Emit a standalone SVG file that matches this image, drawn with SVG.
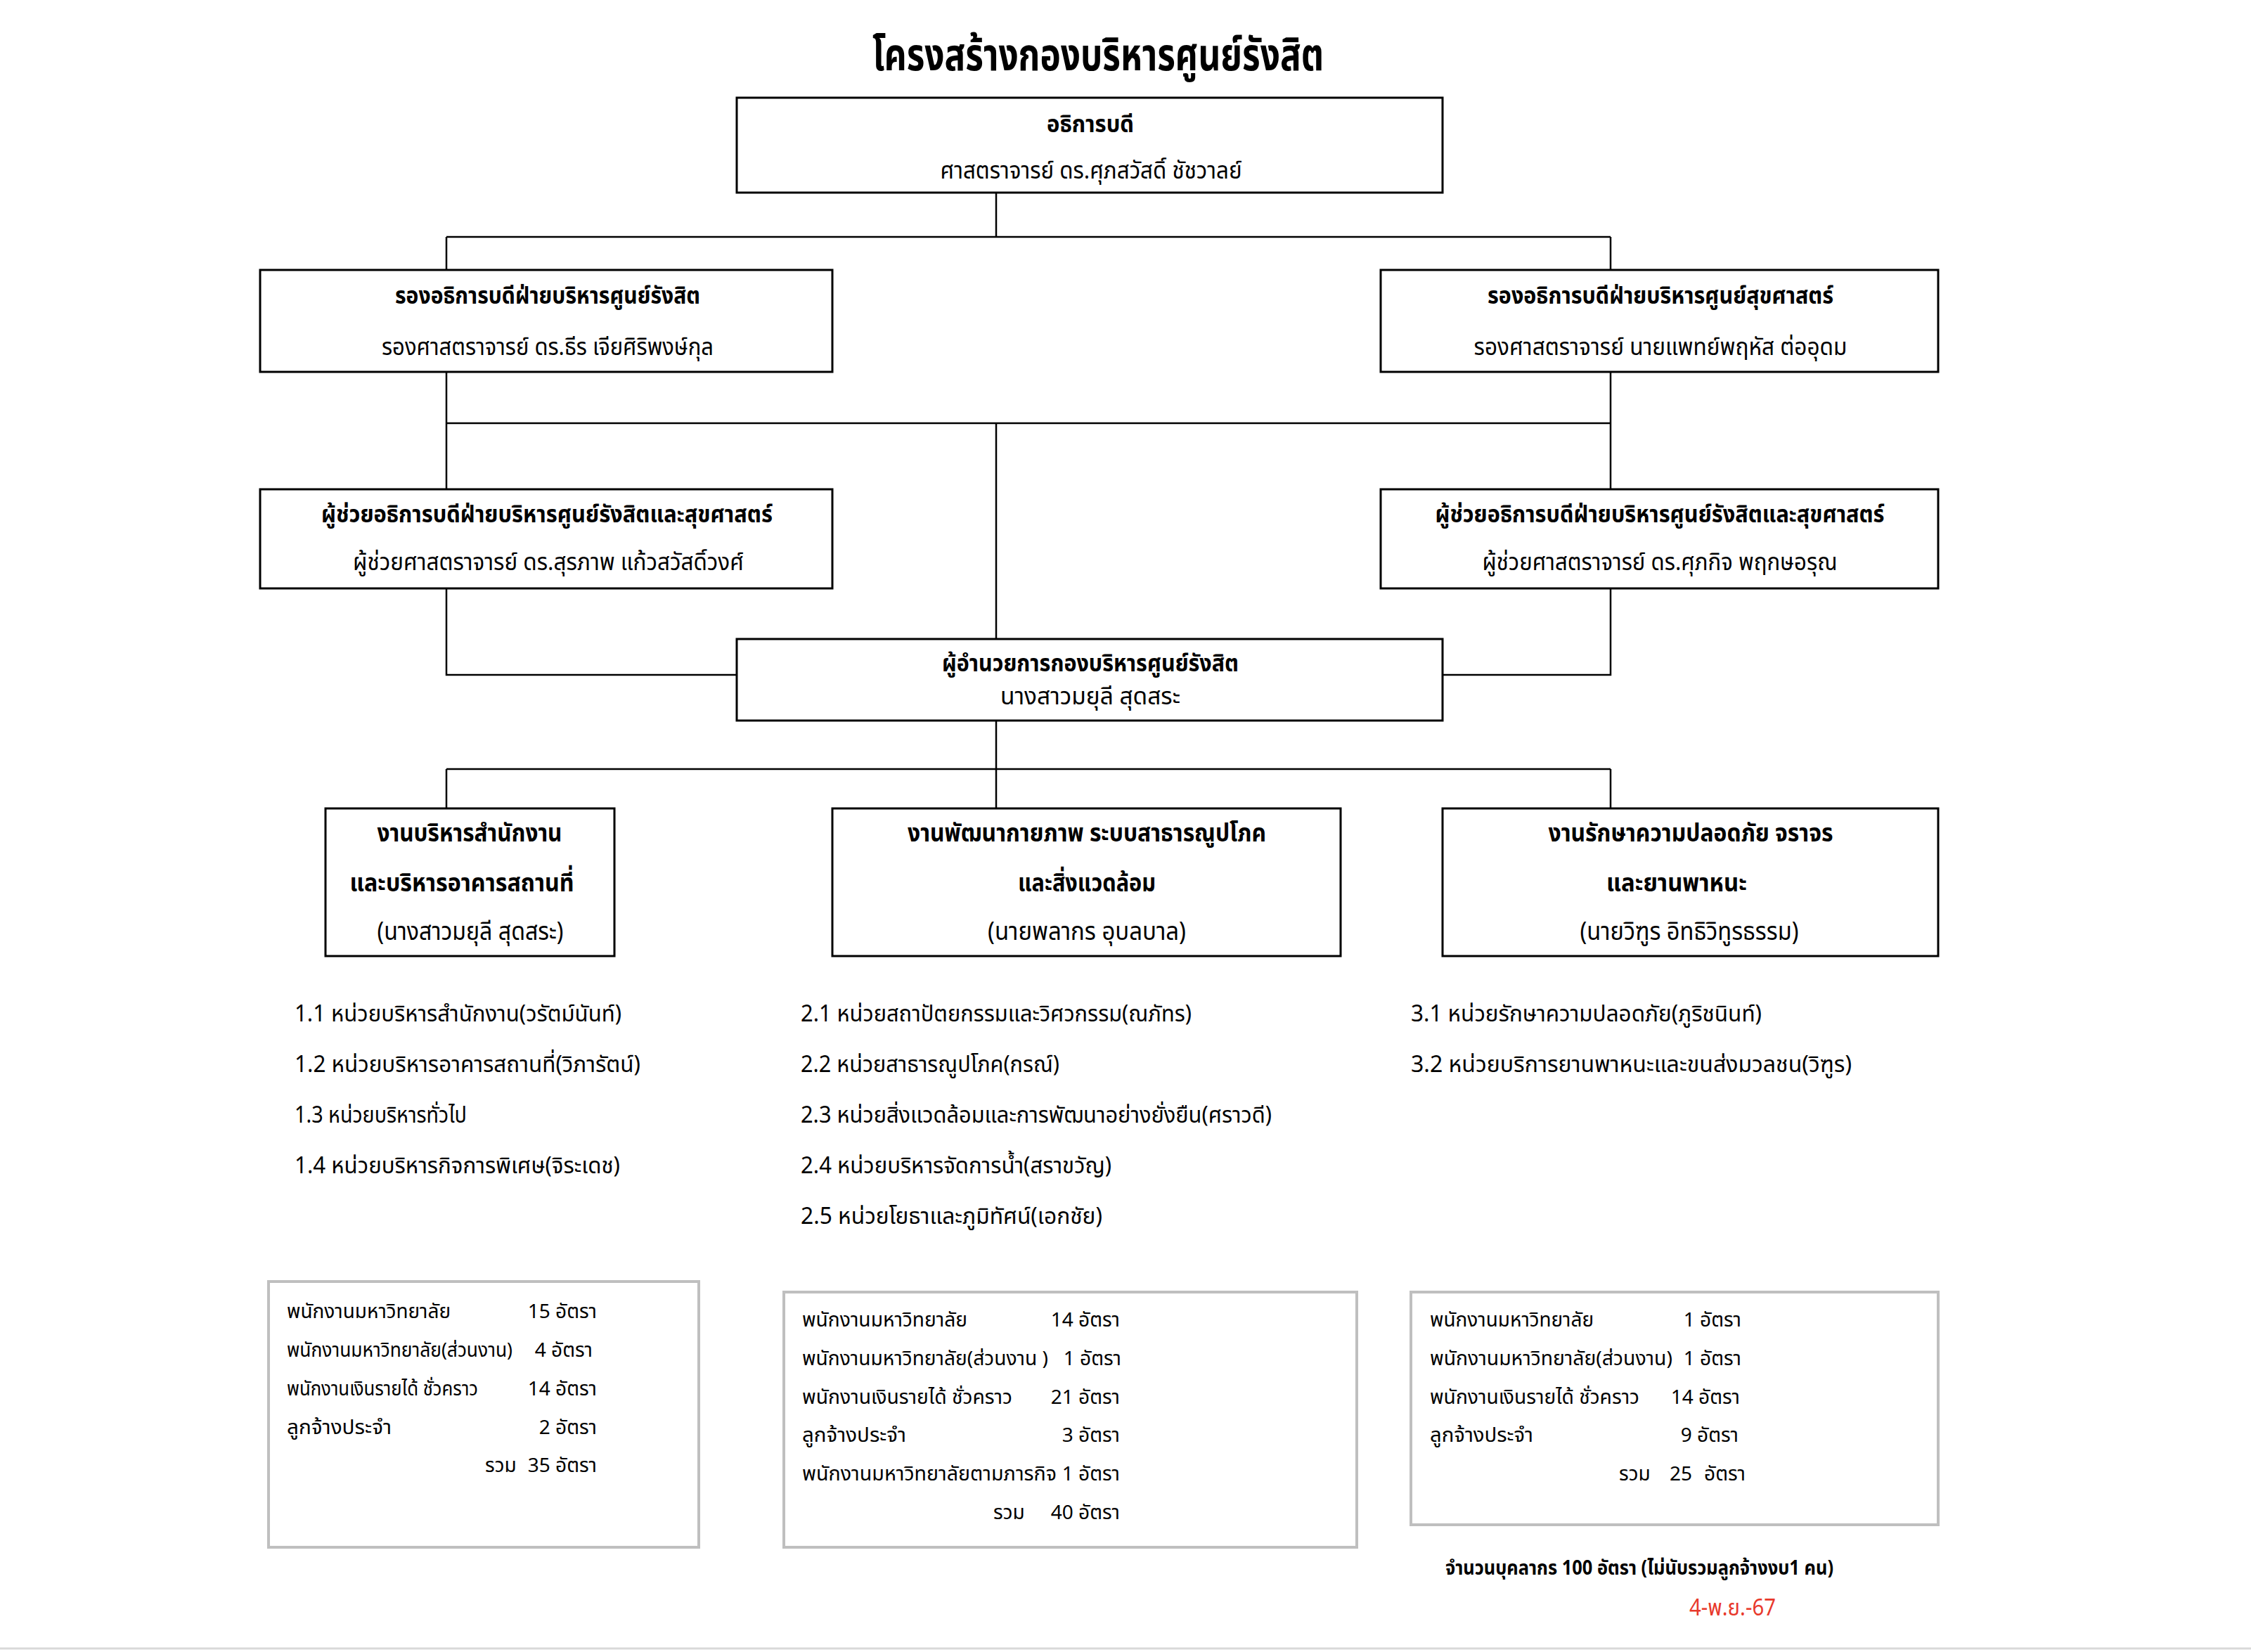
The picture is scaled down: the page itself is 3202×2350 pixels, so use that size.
<svg xmlns="http://www.w3.org/2000/svg" width="3202" height="2350" viewBox="0 0 3202 2350">
<style>
text { font-family: "Noto Sans Thai", "Noto Sans", "Liberation Sans", sans-serif; fill: #000; }
.b { font-weight: bold; }
.c { text-anchor: middle; }
.e { text-anchor: end; }
.box { fill: #fff; stroke: #000; stroke-width: 3; }
.gbox { fill: #fff; stroke: #bfbfbf; stroke-width: 4; }
.conn { stroke: #000; stroke-width: 2.5; fill: none; }
.f36 { font-size: 33px; }
.f38 { font-size: 36px; }
.f32 { font-size: 32px; }
.f28 { font-size: 28px; }
</style>
<rect width="3202" height="2350" fill="#fff"/>
<text class="b c" x="1562" y="100" font-size="64" textLength="642" lengthAdjust="spacingAndGlyphs">โครงสร้างกองบริหารศูนย์รังสิต</text>

<g id="connectors">
<path class="conn" d="M1417 274 V337 M635 337 H2291 M635 337 V384 M2291 337 V384"/>
<path class="conn" d="M635 529 V696 M2291 529 V696 M635 602 H2291 M1417 602 V909"/>
<path class="conn" d="M635 837 V960 H1048 M2291 837 V960 H2052"/>
<path class="conn" d="M1417 1025 V1094 M635 1094 H2291 M635 1094 V1150 M1417 1094 V1150 M2291 1094 V1150"/>
</g>

<g id="president">
<rect class="box" x="1048" y="139" width="1004" height="135"/>
<text class="b c f36" x="1551" y="188" textLength="124" lengthAdjust="spacingAndGlyphs">อธิการบดี</text>
<text class="c f36" x="1552" y="254" textLength="429" lengthAdjust="spacingAndGlyphs">ศาสตราจารย์ ดร.ศุภสวัสดิ์ ชัชวาลย์</text>
</g>

<g id="vp-rangsit">
<rect class="box" x="370" y="384" width="814" height="145"/>
<text class="b c f36" x="779" y="432" textLength="434" lengthAdjust="spacingAndGlyphs">รองอธิการบดีฝ่ายบริหารศูนย์รังสิต</text>
<text class="c f36" x="779" y="505" textLength="472" lengthAdjust="spacingAndGlyphs">รองศาสตราจารย์ ดร.ธีร  เจียศิริพงษ์กุล</text>
</g>

<g id="vp-health">
<rect class="box" x="1964" y="384" width="793" height="145"/>
<text class="b c f36" x="2362" y="432" textLength="492" lengthAdjust="spacingAndGlyphs">รองอธิการบดีฝ่ายบริหารศูนย์สุขศาสตร์</text>
<text class="c f36" x="2362" y="505" textLength="531" lengthAdjust="spacingAndGlyphs">รองศาสตราจารย์ นายแพทย์พฤหัส  ต่ออุดม</text>
</g>

<g id="asst-left">
<rect class="box" x="370" y="696" width="814" height="141"/>
<text class="b c f36" x="778" y="743" textLength="642" lengthAdjust="spacingAndGlyphs">ผู้ช่วยอธิการบดีฝ่ายบริหารศูนย์รังสิตและสุขศาสตร์</text>
<text class="c f36" x="780" y="811" textLength="556" lengthAdjust="spacingAndGlyphs">ผู้ช่วยศาสตราจารย์ ดร.สุรภาพ  แก้วสวัสดิ์วงศ์</text>
</g>

<g id="asst-right">
<rect class="box" x="1964" y="696" width="793" height="141"/>
<text class="b c f36" x="2361" y="743" textLength="639" lengthAdjust="spacingAndGlyphs">ผู้ช่วยอธิการบดีฝ่ายบริหารศูนย์รังสิตและสุขศาสตร์</text>
<text class="c f36" x="2361" y="811" textLength="505" lengthAdjust="spacingAndGlyphs">ผู้ช่วยศาสตราจารย์ ดร.ศุภกิจ  พฤกษอรุณ</text>
</g>

<g id="director">
<rect class="box" x="1048" y="909" width="1004" height="116"/>
<text class="b c f36" x="1551" y="955" textLength="422" lengthAdjust="spacingAndGlyphs">ผู้อำนวยการกองบริหารศูนย์รังสิต</text>
<text class="c f36" x="1551" y="1002" textLength="256" lengthAdjust="spacingAndGlyphs">นางสาวมยุลี  สุดสระ</text>
</g>

<g id="unit-office">
<rect class="box" x="463" y="1150" width="411" height="210"/>
<text class="b c f38" x="668" y="1197" textLength="263" lengthAdjust="spacingAndGlyphs">งานบริหารสำนักงาน</text>
<text class="b c f38" x="657" y="1268" textLength="319" lengthAdjust="spacingAndGlyphs">และบริหารอาคารสถานที่</text>
<text class="c f38" x="669" y="1337" textLength="265" lengthAdjust="spacingAndGlyphs">(นางสาวมยุลี สุดสระ)</text>
</g>

<g id="unit-physical">
<rect class="box" x="1184" y="1150" width="723" height="210"/>
<text class="b c f38" x="1546" y="1197" textLength="510" lengthAdjust="spacingAndGlyphs">งานพัฒนากายภาพ ระบบสาธารณูปโภค</text>
<text class="b c f38" x="1546" y="1268" textLength="196" lengthAdjust="spacingAndGlyphs">และสิ่งแวดล้อม</text>
<text class="c f38" x="1546" y="1337" textLength="282" lengthAdjust="spacingAndGlyphs">(นายพลากร  อุบลบาล)</text>
</g>

<g id="unit-security">
<rect class="box" x="2052" y="1150" width="705" height="210"/>
<text class="b c f38" x="2405" y="1197" textLength="405" lengthAdjust="spacingAndGlyphs">งานรักษาความปลอดภัย จราจร</text>
<text class="b c f38" x="2385" y="1268" textLength="200" lengthAdjust="spacingAndGlyphs">และยานพาหนะ</text>
<text class="c f38" x="2403" y="1337" textLength="311" lengthAdjust="spacingAndGlyphs">(นายวิฑูร  อิทธิวิทูรธรรม)</text>
</g>

<g id="list-office">
<text class="f32" x="419" y="1453" textLength="465" lengthAdjust="spacingAndGlyphs">1.1 หน่วยบริหารสำนักงาน(วรัตม์นันท์)</text>
<text class="f32" x="419" y="1525" textLength="492" lengthAdjust="spacingAndGlyphs">1.2 หน่วยบริหารอาคารสถานที่(วิภารัตน์)</text>
<text class="f32" x="419" y="1597" textLength="245" lengthAdjust="spacingAndGlyphs">1.3 หน่วยบริหารทั่วไป</text>
<text class="f32" x="419" y="1669" textLength="463" lengthAdjust="spacingAndGlyphs">1.4 หน่วยบริหารกิจการพิเศษ(จิระเดช)</text>
</g>

<g id="list-physical">
<text class="f32" x="1139" y="1453" textLength="556" lengthAdjust="spacingAndGlyphs">2.1 หน่วยสถาปัตยกรรมและวิศวกรรม(ณภัทร)</text>
<text class="f32" x="1139" y="1525" textLength="368" lengthAdjust="spacingAndGlyphs">2.2 หน่วยสาธารณูปโภค(กรณ์)</text>
<text class="f32" x="1139" y="1597" textLength="670" lengthAdjust="spacingAndGlyphs">2.3 หน่วยสิ่งแวดล้อมและการพัฒนาอย่างยั่งยืน(ศราวดี)</text>
<text class="f32" x="1139" y="1669" textLength="442" lengthAdjust="spacingAndGlyphs">2.4 หน่วยบริหารจัดการน้ำ(สราขวัญ)</text>
<text class="f32" x="1139" y="1741" textLength="429" lengthAdjust="spacingAndGlyphs">2.5 หน่วยโยธาและภูมิทัศน์(เอกชัย)</text>
</g>

<g id="list-security">
<text class="f32" x="2007" y="1453" textLength="499" lengthAdjust="spacingAndGlyphs">3.1 หน่วยรักษาความปลอดภัย(ภูริชนินท์)</text>
<text class="f32" x="2007" y="1525" textLength="627" lengthAdjust="spacingAndGlyphs">3.2 หน่วยบริการยานพาหนะและขนส่งมวลชน(วิฑูร)</text>
</g>

<g id="staff-office">
<rect class="gbox" x="382" y="1823" width="612" height="378"/>
<text class="f28" x="408" y="1875" textLength="233" lengthAdjust="spacingAndGlyphs">พนักงานมหาวิทยาลัย</text>
<text class="f28 e" x="849" y="1875">15 อัตรา</text>
<text class="f28" x="408" y="1930" textLength="321" lengthAdjust="spacingAndGlyphs">พนักงานมหาวิทยาลัย(ส่วนงาน)</text>
<text class="f28 e" x="843" y="1930">4 อัตรา</text>
<text class="f28" x="408" y="1985" textLength="272" lengthAdjust="spacingAndGlyphs">พนักงานเงินรายได้ ชั่วคราว</text>
<text class="f28 e" x="849" y="1985">14 อัตรา</text>
<text class="f28" x="408" y="2040" textLength="149" lengthAdjust="spacingAndGlyphs">ลูกจ้างประจำ</text>
<text class="f28 e" x="849" y="2040">2 อัตรา</text>
<text class="f28" x="690" y="2094">รวม</text>
<text class="f28 e" x="849" y="2094">35 อัตรา</text>
</g>

<g id="staff-physical">
<rect class="gbox" x="1115" y="1838" width="815" height="363"/>
<text class="f28" x="1141" y="1887" textLength="235" lengthAdjust="spacingAndGlyphs">พนักงานมหาวิทยาลัย</text>
<text class="f28 e" x="1593" y="1887">14 อัตรา</text>
<text class="f28" x="1141" y="1942" textLength="350" lengthAdjust="spacingAndGlyphs">พนักงานมหาวิทยาลัย(ส่วนงาน )</text>
<text class="f28 e" x="1595" y="1942">1 อัตรา</text>
<text class="f28" x="1141" y="1997" textLength="299" lengthAdjust="spacingAndGlyphs">พนักงานเงินรายได้ ชั่วคราว</text>
<text class="f28 e" x="1593" y="1997">21 อัตรา</text>
<text class="f28" x="1141" y="2051" textLength="148" lengthAdjust="spacingAndGlyphs">ลูกจ้างประจำ</text>
<text class="f28 e" x="1593" y="2051">3 อัตรา</text>
<text class="f28" x="1141" y="2106" textLength="362" lengthAdjust="spacingAndGlyphs">พนักงานมหาวิทยาลัยตามภารกิจ</text>
<text class="f28 e" x="1593" y="2106">1 อัตรา</text>
<text class="f28" x="1413" y="2161">รวม</text>
<text class="f28 e" x="1593" y="2161">40 อัตรา</text>
</g>

<g id="staff-security">
<rect class="gbox" x="2007" y="1838" width="750" height="331"/>
<text class="f28" x="2034" y="1887" textLength="233" lengthAdjust="spacingAndGlyphs">พนักงานมหาวิทยาลัย</text>
<text class="f28 e" x="2477" y="1887">1 อัตรา</text>
<text class="f28" x="2034" y="1942" textLength="345" lengthAdjust="spacingAndGlyphs">พนักงานมหาวิทยาลัย(ส่วนงาน)</text>
<text class="f28 e" x="2477" y="1942">1 อัตรา</text>
<text class="f28" x="2034" y="1997" textLength="298" lengthAdjust="spacingAndGlyphs">พนักงานเงินรายได้ ชั่วคราว</text>
<text class="f28 e" x="2475" y="1997">14 อัตรา</text>
<text class="f28" x="2034" y="2051" textLength="147" lengthAdjust="spacingAndGlyphs">ลูกจ้างประจำ</text>
<text class="f28 e" x="2473" y="2051">9 อัตรา</text>
<text class="f28" x="2303" y="2106">รวม</text>
<text class="f28" x="2375" y="2106">25</text>
<text class="f28 e" x="2483" y="2106">อัตรา</text>
</g>

<g id="footer">
<text class="b" x="2056" y="2240" font-size="28" textLength="552" lengthAdjust="spacingAndGlyphs">จำนวนบุคลากร 100 อัตรา (ไม่นับรวมลูกจ้างงบ1 คน)</text>
<text x="2403" y="2298" font-size="32" fill="#e8392c" style="fill:#e8392c" textLength="123" lengthAdjust="spacingAndGlyphs">4-พ.ย.-67</text>
</g>
<line x1="0" y1="2345" x2="3202" y2="2345" stroke="#d9d9d9" stroke-width="3"/>
</svg>
